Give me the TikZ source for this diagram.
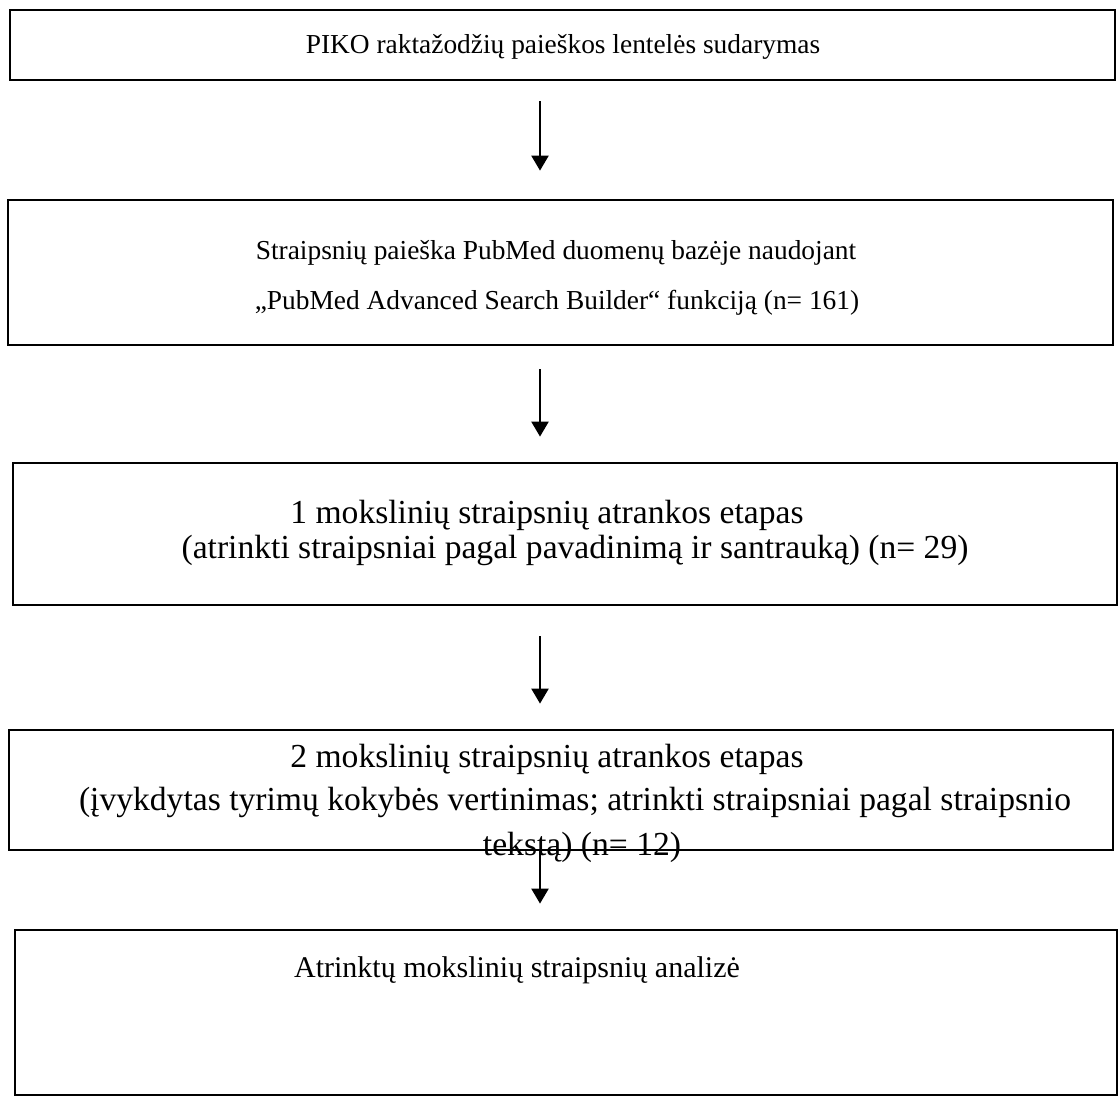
\documentclass[tikz,border=0pt]{standalone}
\usepackage{fontspec}
\setmainfont{Liberation Serif}
\usetikzlibrary{arrows.meta}

\tikzset{
    blokas/.style={draw, line width=1.4pt, rectangle, inner sep=0pt},
    tekstas/.style={anchor=base, inner sep=0pt, font=\fontsize{13.7}{16}\selectfont},
    didtekstas/.style={anchor=base, inner sep=0pt, font=\fontsize{16.8}{19}\selectfont},
    rod/.style={-{Triangle[width=8.5pt, length=7.5pt]}, line width=1.2pt}
}

\begin{document}
\begin{tikzpicture}[x=0.5pt, y=-0.5pt]
        \useasboundingbox (0,0) rectangle (1120,1110);

        % Blokai
        \node[blokas, minimum width=552.5pt, minimum height=35pt] (b1) at (562.5,45) {};
        \node[blokas, minimum width=552.5pt, minimum height=72.5pt] (b2) at (560.5,272.5) {};
        \node[blokas, minimum width=552pt, minimum height=71pt] (b3) at (565,534) {};
        \node[blokas, minimum width=552pt, minimum height=60pt] (b4) at (561,790) {};
        \node[blokas, minimum width=551pt, minimum height=82.5pt] (b5) at (566,1012.5) {};

        % Tekstai
        \node[tekstas] (t1) at (563,53) {PIKO raktažodžių paieškos lentelės sudarymas};
        \node[tekstas] (t2a) at (556,259) {Straipsnių paieška PubMed duomenų bazėje naudojant};
        \node[tekstas] (t2b) at (557,309) {„PubMed Advanced Search Builder“ funkciją (n= 161)};
        \node[didtekstas] (t3a) at (547,523) {1 mokslinių straipsnių atrankos etapas};
        \node[didtekstas] (t3b) at (575,558) {(atrinkti straipsniai pagal pavadinimą ir santrauką) (n= 29)};
        \node[didtekstas] (t4a) at (547,767) {2 mokslinių straipsnių atrankos etapas};
        \node[didtekstas] (t4b) at (575,810) {(įvykdytas tyrimų kokybės vertinimas; atrinkti straipsniai pagal straipsnio};
        \node[didtekstas] (t4c) at (582,855) {tekstą) (n= 12)};
        \node[tekstas, font=\fontsize{15}{18}\selectfont] (t5) at (517,977) {Atrinktų mokslinių straipsnių analizė};

        % Rodyklės
        \coordinate (ax) at (540,0);
        \draw[rod, shorten <=10pt, shorten >=14pt] (b1.south -| ax) -- (b2.north -| ax);
        \draw[rod, shorten <=11.5pt, shorten >=12.5pt] (b2.south -| ax) -- (b3.north -| ax);
        \draw[rod, shorten <=15pt, shorten >=12.5pt] (b3.south -| ax) -- (b4.north -| ax);
        \draw[rod, shorten <=-1pt, shorten >=12.5pt] (b4.south -| ax) -- (b5.north -| ax);
    \end{tikzpicture}
\end{document}
